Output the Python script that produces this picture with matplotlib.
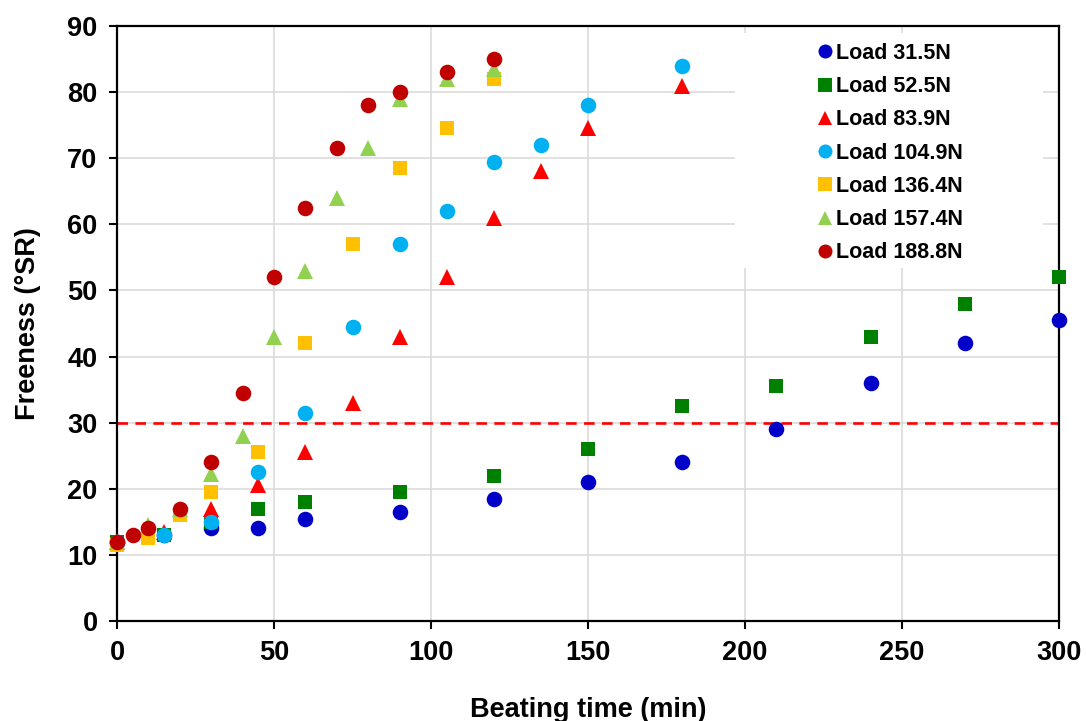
import matplotlib
matplotlib.use("Agg")
import matplotlib.pyplot as plt
from matplotlib.patches import Rectangle

plt.rcParams['font.family'] = ['Liberation Sans', 'DejaVu Sans']
plt.rcParams['font.weight'] = 'bold'

# ---- data ----
labels = ["Load 31.5N", "Load 52.5N", "Load 83.9N", "Load 104.9N",
          "Load 136.4N", "Load 157.4N", "Load 188.8N"]

t_315 = [0, 15, 30, 45, 60, 90, 120, 150, 180, 210, 240, 270, 300]
f_315 = [12, 13, 14, 14, 15.5, 16.5, 18.5, 21, 24, 29, 36, 42, 45.5]

t_525 = [0, 15, 30, 45, 60, 90, 120, 150, 180, 210, 240, 270, 300]
f_525 = [12, 13, 15, 17, 18, 19.5, 22, 26, 32.5, 35.5, 43, 48, 52]

t_839 = [0, 15, 30, 45, 60, 75, 90, 105, 120, 135, 150, 180]
f_839 = [12, 13.5, 17, 20.5, 25.5, 33, 43, 52, 61, 68, 74.5, 81]

t_1049 = [0, 15, 30, 45, 60, 75, 90, 105, 120, 135, 150, 180]
f_1049 = [12, 13, 15, 22.5, 31.5, 44.5, 57, 62, 69.5, 72, 78, 84]

t_1364 = [0, 10, 20, 30, 45, 60, 75, 90, 105, 120]
f_1364 = [11.5, 12.5, 16, 19.5, 25.5, 42, 57, 68.5, 74.5, 82]

t_1574 = [0, 10, 20, 30, 40, 50, 60, 70, 80, 90, 105, 120]
f_1574 = [12, 14.5, 17, 22.2, 28, 43, 53, 64, 71.5, 79, 82, 83.5]

t_1888 = [0, 5, 10, 20, 30, 40, 50, 60, 70, 80, 90, 105, 120]
f_1888 = [12, 13, 14, 17, 24, 34.5, 52, 62.5, 71.5, 78, 80, 83, 85]

threshold = 30

series_t = [t_315, t_525, t_839, t_1049, t_1364, t_1574, t_1888]
series_f = [f_315, f_525, f_839, f_1049, f_1364, f_1574, f_1888]
markers = ['o', 's', '^', 'o', 's', '^', 'o']
colors = ['#0000C8', '#008000', '#FF0000', '#00B0F0', '#FFC000', '#92D050', '#C00000']
msizes = [11.2, 10.5, 11.0, 11.2, 10.5, 11.0, 11.2]

fig = plt.figure(figsize=(10.86, 7.21), dpi=100)
ax = fig.add_axes([117/1086, 1 - 621/721, (1059-117)/1086, (621-26)/721])

ax.set_xlim(0, 300)
ax.set_ylim(0, 90)
ax.set_xticks(range(0, 301, 50))
ax.set_yticks(range(0, 91, 10))
ax.set_axisbelow(True)
ax.grid(True, color='#D9D9D9', linewidth=1.1, zorder=0)

ax.axhline(threshold, color='#FF0000', linewidth=1.9, dashes=(4.0, 2.8), zorder=1.2)

# white legend background box
ax.add_patch(Rectangle((618/942, (621-268)/595), 308/942, 235/595,
                       transform=ax.transAxes, facecolor='white',
                       edgecolor='none', zorder=1.5))

handles = []
for t, f, m, c, ms, lab in zip(series_t, series_f, markers, colors, msizes, labels):
    h, = ax.plot(t, f, linestyle='none', marker=m, color=c, markersize=ms,
                 markeredgewidth=0, label=lab, clip_on=False, zorder=3)
    handles.append(h)

for s in ax.spines.values():
    s.set_linewidth(1.6)
    s.set_color('black')

ax.tick_params(axis='both', direction='out', length=6, width=1.5,
               labelsize=19.5, pad=8, colors='black')
for lab in ax.get_xticklabels() + ax.get_yticklabels():
    lab.set_fontweight('bold')

ax.set_xlabel("Beating time (min)", fontsize=19.5, fontweight='bold', labelpad=22)
ax.set_ylabel("Freeness (°SR)", fontsize=19.5, fontweight='bold', labelpad=19)

leg = ax.legend(handles=handles, loc='upper left',
                bbox_to_anchor=(807/1086, 1 - 32/721), bbox_transform=fig.transFigure,
                frameon=False, fontsize=15.5, handlelength=0.7, handletextpad=0.15,
                labelspacing=0.57, borderpad=0, markerscale=0.9)
leg.set_zorder(4)
for txt in leg.get_texts():
    txt.set_fontweight('bold')

fig.savefig("out.png", dpi=100)
